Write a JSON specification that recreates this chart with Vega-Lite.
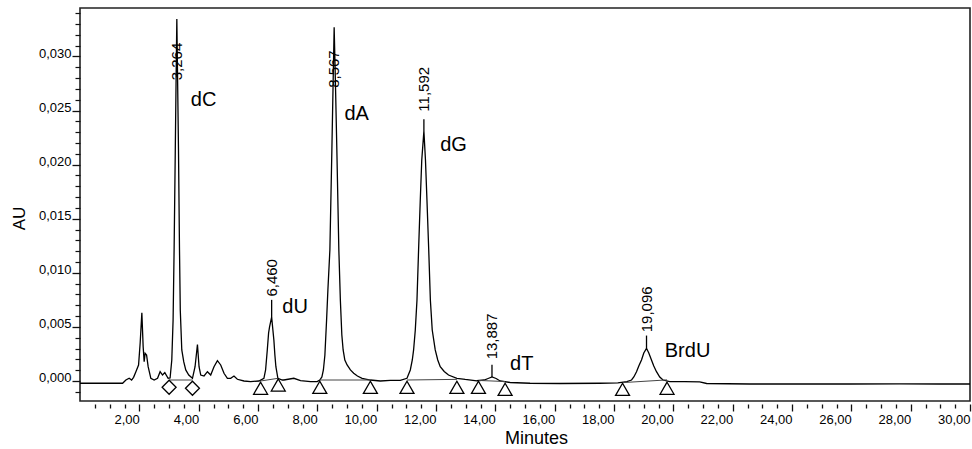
{
  "$schema": "https://vega.github.io/schema/vega-lite/v6.json",
  "width": 890,
  "height": 393,
  "autosize": {"type": "none"},
  "padding": {"left": 80, "top": 8, "right": 2, "bottom": 48},
  "background": "white",
  "config": {
    "view": {"stroke": "#222", "strokeWidth": 1.6},
    "font": "Liberation Sans",
    "axis": {"labelFont": "Liberation Sans", "titleFont": "Liberation Sans", "labelColor": "#000", "titleColor": "#000", "tickColor": "#111", "grid": false, "domain": false}
  },
  "datasets": {
    "trace": [
      {"t": 0, "v": -0.00021}, {"t": 1.436, "v": -0.00021}, {"t": 1.547, "v": 0.00009}, {"t": 1.658, "v": 0.00025},
      {"t": 1.739, "v": 0.00009}, {"t": 1.806, "v": 0.00034}, {"t": 1.884, "v": 0.00086}, {"t": 1.974, "v": 0.00148},
      {"t": 2.028, "v": 0.00351}, {"t": 2.085, "v": 0.00631}, {"t": 2.129, "v": 0.00317}, {"t": 2.163, "v": 0.00178},
      {"t": 2.196, "v": 0.00256}, {"t": 2.244, "v": 0.0024}, {"t": 2.297, "v": 0.00132}, {"t": 2.388, "v": 0.00025},
      {"t": 2.499, "v": 0.00009}, {"t": 2.614, "v": 0.00025}, {"t": 2.701, "v": 0.00086}, {"t": 2.782, "v": 0.00055},
      {"t": 2.859, "v": 0.00077}, {"t": 2.97, "v": 0.00025}, {"t": 3.037, "v": 0.00028}, {"t": 3.094, "v": 0.00194},
      {"t": 3.138, "v": 0.00564}, {"t": 3.172, "v": 0.01211}, {"t": 3.212, "v": 0.02136}, {"t": 3.239, "v": 0.02783},
      {"t": 3.264, "v": 0.03347}, {"t": 3.29, "v": 0.02783}, {"t": 3.32, "v": 0.02136}, {"t": 3.354, "v": 0.01211},
      {"t": 3.38, "v": 0.00656}, {"t": 3.431, "v": 0.00287}, {"t": 3.498, "v": 0.00176}, {"t": 3.565, "v": 0.00102},
      {"t": 3.666, "v": 0.00055}, {"t": 3.791, "v": 0.00025}, {"t": 3.878, "v": 0.00132}, {"t": 3.959, "v": 0.00337},
      {"t": 4.013, "v": 0.00132}, {"t": 4.07, "v": 0.00055}, {"t": 4.181, "v": 0.00046}, {"t": 4.295, "v": 0.00086},
      {"t": 4.406, "v": 0.00055}, {"t": 4.517, "v": 0.00132}, {"t": 4.632, "v": 0.00188}, {"t": 4.743, "v": 0.00148},
      {"t": 4.854, "v": 0.00071}, {"t": 4.968, "v": 0.00025}, {"t": 5.079, "v": 0.00025}, {"t": 5.19, "v": 0.00046},
      {"t": 5.304, "v": 0.00016}, {"t": 5.527, "v": 0}, {"t": 5.752, "v": -0.00006}, {"t": 6.031, "v": 0},
      {"t": 6.199, "v": 0.00025}, {"t": 6.256, "v": 0.00102}, {"t": 6.313, "v": 0.00287}, {"t": 6.357, "v": 0.00444},
      {"t": 6.391, "v": 0.00502}, {"t": 6.46, "v": 0.0059}, {"t": 6.502, "v": 0.00471}, {"t": 6.535, "v": 0.00379},
      {"t": 6.569, "v": 0.0024}, {"t": 6.603, "v": 0.00132}, {"t": 6.67, "v": 0.00025}, {"t": 6.818, "v": 0.00009},
      {"t": 6.872, "v": 0.00009}, {"t": 7.208, "v": 0.00025}, {"t": 7.433, "v": 0.00003}, {"t": 7.77, "v": -0.00006},
      {"t": 7.995, "v": -0.00005}, {"t": 8.083, "v": 0.00009}, {"t": 8.154, "v": 0.00037}, {"t": 8.204, "v": 0.00102},
      {"t": 8.255, "v": 0.0024}, {"t": 8.312, "v": 0.00564}, {"t": 8.356, "v": 0.00841}, {"t": 8.423, "v": 0.01211},
      {"t": 8.49, "v": 0.02136}, {"t": 8.534, "v": 0.02783}, {"t": 8.567, "v": 0.0327}, {"t": 8.608, "v": 0.02783},
      {"t": 8.658, "v": 0.02136}, {"t": 8.725, "v": 0.01211}, {"t": 8.776, "v": 0.00749}, {"t": 8.826, "v": 0.00425},
      {"t": 8.87, "v": 0.00287}, {"t": 8.927, "v": 0.00194}, {"t": 9.004, "v": 0.00148}, {"t": 9.115, "v": 0.00102},
      {"t": 9.226, "v": 0.00071}, {"t": 9.351, "v": 0.00046}, {"t": 9.509, "v": 0.00025}, {"t": 9.788, "v": 0.00009},
      {"t": 10.124, "v": 0}, {"t": 10.461, "v": 0.00005}, {"t": 10.797, "v": 0.00005}, {"t": 11.022, "v": 0.00025},
      {"t": 11.134, "v": 0.00102}, {"t": 11.201, "v": 0.00194}, {"t": 11.245, "v": 0.00287}, {"t": 11.302, "v": 0.00471},
      {"t": 11.359, "v": 0.00749}, {"t": 11.413, "v": 0.01211}, {"t": 11.47, "v": 0.01673}, {"t": 11.52, "v": 0.02043},
      {"t": 11.592, "v": 0.0231}, {"t": 11.645, "v": 0.02043}, {"t": 11.695, "v": 0.01673}, {"t": 11.755, "v": 0.01211},
      {"t": 11.81, "v": 0.00749}, {"t": 11.873, "v": 0.00471}, {"t": 11.974, "v": 0.00287}, {"t": 12.059, "v": 0.00194},
      {"t": 12.143, "v": 0.00132}, {"t": 12.277, "v": 0.00088}, {"t": 12.422, "v": 0.00055}, {"t": 12.704, "v": 0.00025},
      {"t": 12.984, "v": 0.00014}, {"t": 13.377, "v": 0.00002}, {"t": 13.623, "v": 0.00009}, {"t": 13.757, "v": 0.00023},
      {"t": 13.887, "v": 0.00037}, {"t": 14.026, "v": 0.00023}, {"t": 14.161, "v": 0}, {"t": 14.497, "v": -0.00014},
      {"t": 15.17, "v": -0.00021}, {"t": 16.179, "v": -0.00023}, {"t": 17.524, "v": -0.00021}, {"t": 18.13, "v": -0.00018},
      {"t": 18.433, "v": -0.00005}, {"t": 18.591, "v": 0.00009}, {"t": 18.668, "v": 0.00037}, {"t": 18.759, "v": 0.00086},
      {"t": 18.836, "v": 0.00139}, {"t": 18.927, "v": 0.00194}, {"t": 19.004, "v": 0.00259}, {"t": 19.096, "v": 0.00302},
      {"t": 19.173, "v": 0.00259}, {"t": 19.263, "v": 0.00194}, {"t": 19.341, "v": 0.00139}, {"t": 19.432, "v": 0.00086},
      {"t": 19.542, "v": 0.00037}, {"t": 19.653, "v": 0.00009}, {"t": 19.879, "v": -0.00006}, {"t": 20.383, "v": -0.00006},
      {"t": 20.888, "v": -0.00009}, {"t": 21.123, "v": -0.00023}, {"t": 22.57, "v": -0.00028}, {"t": 24.252, "v": -0.00028},
      {"t": 25.934, "v": -0.00028}, {"t": 27.615, "v": -0.00026}, {"t": 28.961, "v": -0.00028}, {"t": 30, "v": -0.00028}
    ],
    "markers": [
      {"t": 3.004, "v": -0.00058, "shape": "diamond"},
      {"t": 3.791, "v": -0.00067, "shape": "diamond"},
      {"t": 6.088, "v": -0.00067, "shape": "triangle-up"},
      {"t": 6.683, "v": -0.00037, "shape": "triangle-up"},
      {"t": 8.083, "v": -0.00058, "shape": "triangle-up"},
      {"t": 9.788, "v": -0.00058, "shape": "triangle-up"},
      {"t": 11.022, "v": -0.00058, "shape": "triangle-up"},
      {"t": 12.704, "v": -0.00058, "shape": "triangle-up"},
      {"t": 13.431, "v": -0.00058, "shape": "triangle-up"},
      {"t": 14.329, "v": -0.00077, "shape": "triangle-up"},
      {"t": 18.288, "v": -0.00077, "shape": "triangle-up"},
      {"t": 19.788, "v": -0.00067, "shape": "triangle-up"}
    ],
    "baselines": [
      {"t1": 3.004, "v1": 0.00009, "t2": 3.791, "v2": 0.00009},
      {"t1": 6.088, "v1": 0.0, "t2": 6.683, "v2": 0.00025},
      {"t1": 8.083, "v1": 0.00009, "t2": 9.788, "v2": 0.00009},
      {"t1": 11.022, "v1": 0.00009, "t2": 12.704, "v2": 0.00015},
      {"t1": 13.431, "v1": 0.00005, "t2": 14.329, "v2": -0.00005},
      {"t1": 18.288, "v1": -0.00015, "t2": 19.788, "v2": 0.0001}
    ],
    "peaks": [
      {"rt": 3.264, "label": "3,264", "apex": 0.0335, "top": 0.0335, "lab": 0.0278},
      {"rt": 6.46, "label": "6,460", "apex": 0.0059, "top": 0.0075, "lab": 0.0078},
      {"rt": 8.567, "label": "8,567", "apex": 0.0327, "top": 0.0327, "lab": 0.0271},
      {"rt": 11.592, "label": "11,592", "apex": 0.0231, "top": 0.0242, "lab": 0.0249},
      {"rt": 13.887, "label": "13,887", "apex": 0.00037, "top": 0.0015, "lab": 0.002},
      {"rt": 19.096, "label": "19,096", "apex": 0.00302, "top": 0.0042, "lab": 0.0045}
    ],
    "names": [
      {"t": 3.734, "v": 0.026, "name": "dC"},
      {"t": 8.913, "v": 0.0247, "name": "dA"},
      {"t": 12.143, "v": 0.0218, "name": "dG"},
      {"t": 6.818, "v": 0.0068, "name": "dU"},
      {"t": 14.497, "v": 0.00157, "name": "dT"},
      {"t": 19.711, "v": 0.00277, "name": "BrdU"}
    ]
  },
  "resolve": {"axis": {"x": "independent", "y": "independent"}},
  "layer": [
    {
      "data": {"name": "trace"},
      "mark": {"type": "line", "color": "#000", "strokeWidth": 1.3, "clip": true},
      "encoding": {
        "x": {"field": "t", "type": "quantitative", "scale": {"domain": [0, 30], "nice": false, "zero": false},
          "axis": {"orient": "bottom", "values": [2,4,6,8,10,12,14,16,18,20,22,24,26,28,30], "tickSize": 7, "tickWidth": 1.3, "offset": 3,
            "labelAlign": "right", "labelBaseline": "top", "labelPadding": 2, "labelFontSize": 13, "labelFlush": false, "labelOverlap": false,
            "labelExpr": "replace(format(datum.value, '.2f'), '.', ',')",
            "title": "Minutes", "titleFontSize": 18, "titleFontWeight": "normal", "titleX": 456, "titleY": 34, "titleAnchor": "middle", "titleAlign": "center", "titleBaseline": "middle"}},
        "y": {"field": "v", "type": "quantitative", "scale": {"domain": [-0.00185, 0.03448], "nice": false, "zero": false},
          "axis": {"orient": "left", "values": [0, 0.005, 0.01, 0.015, 0.02, 0.025, 0.03], "tickSize": 8, "tickWidth": 1.3,
            "labelPadding": 1, "labelFontSize": 13, "labelBaseline": "alphabetic", "labelOffset": 1, "labelFlush": false, "labelOverlap": false,
            "labelExpr": "replace(format(datum.value, '.3f'), '.', ',')",
            "title": "AU", "titleFontSize": 17, "titleFontWeight": "normal", "titleAngle": 270, "titleX": -61, "titleY": 210, "titleAlign": "center", "titleBaseline": "middle"}}
      }
    },
    {
      "data": {"name": "baselines"},
      "mark": {"type": "rule", "color": "#444", "strokeWidth": 1},
      "encoding": {
        "x": {"field": "t1", "type": "quantitative",
          "axis": {"orient": "bottom", "values": [0.5,1,1.5,2.5,3,3.5,4.5,5,5.5,6.5,7,7.5,8.5,9,9.5,10.5,11,11.5,12.5,13,13.5,14.5,15,15.5,16.5,17,17.5,18.5,19,19.5,20.5,21,21.5,22.5,23,23.5,24.5,25,25.5,26.5,27,27.5,28.5,29,29.5], "tickSize": 4, "tickWidth": 1.3, "offset": 3, "labels": false, "title": null}},
        "x2": {"field": "t2"},
        "y": {"field": "v1", "type": "quantitative",
          "axis": {"orient": "left", "values": [-0.001,0.001,0.002,0.003,0.004,0.006,0.007,0.008,0.009,0.011,0.012,0.013,0.014,0.016,0.017,0.018,0.019,0.021,0.022,0.023,0.024,0.026,0.027,0.028,0.029,0.031,0.032,0.033,0.034], "tickSize": 5, "tickWidth": 1.2, "labels": false, "title": null}},
        "y2": {"field": "v2"}
      }
    },
    {
      "data": {"name": "peaks"},
      "mark": {"type": "rule", "color": "#000", "strokeWidth": 1.3},
      "encoding": {
        "x": {"field": "rt", "type": "quantitative", "axis": null},
        "y": {"field": "apex", "type": "quantitative", "axis": null},
        "y2": {"field": "top"}
      }
    },
    {
      "data": {"name": "markers"},
      "mark": {"type": "point", "filled": true, "fill": "white", "stroke": "#000", "strokeWidth": 1.3, "size": 195, "opacity": 1},
      "encoding": {
        "x": {"field": "t", "type": "quantitative", "axis": null},
        "y": {"field": "v", "type": "quantitative", "axis": null},
        "shape": {"field": "shape", "type": "nominal", "scale": null, "legend": null}
      }
    },
    {
      "data": {"name": "peaks"},
      "mark": {"type": "text", "angle": 270, "align": "left", "baseline": "middle", "fontSize": 15, "font": "Liberation Sans", "color": "#000"},
      "encoding": {
        "x": {"field": "rt", "type": "quantitative", "axis": null},
        "y": {"field": "lab", "type": "quantitative", "axis": null},
        "text": {"field": "label"}
      }
    },
    {
      "data": {"name": "names"},
      "mark": {"type": "text", "align": "left", "baseline": "middle", "fontSize": 20, "font": "Liberation Sans", "color": "#000"},
      "encoding": {
        "x": {"field": "t", "type": "quantitative", "axis": null},
        "y": {"field": "v", "type": "quantitative", "axis": null},
        "text": {"field": "name"}
      }
    }
  ]
}
